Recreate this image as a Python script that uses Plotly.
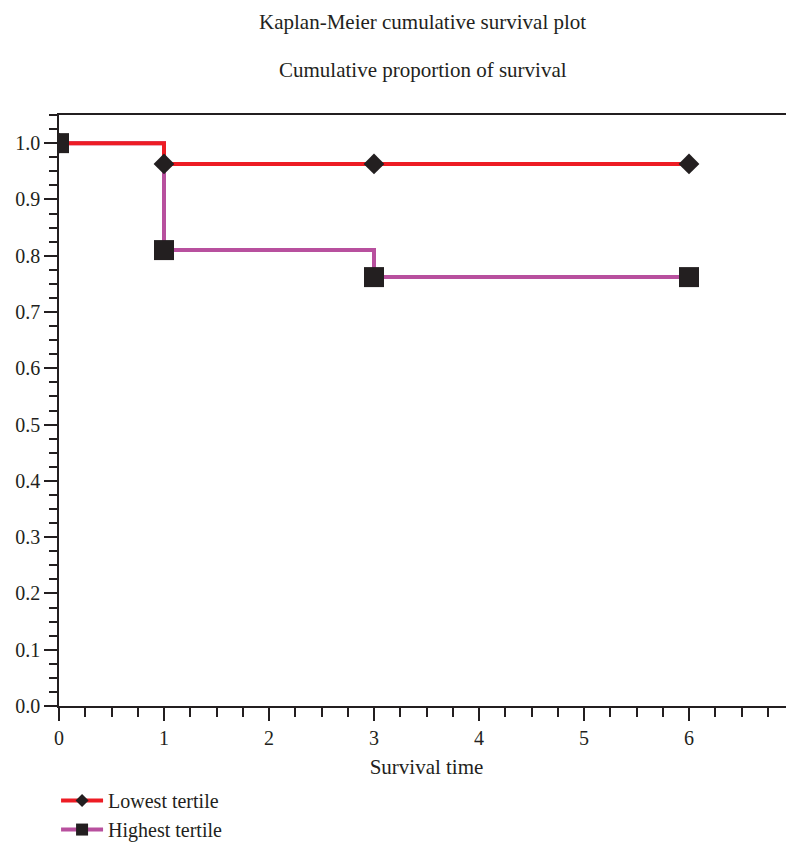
import plotly.graph_objects as go

time = [0, 1, 3, 6]
lowest = [1.0, 0.963, 0.963, 0.963]
highest = [1.0, 0.81, 0.762, 0.762]
names = ["Lowest tertile", "Highest tertile"]
colors = ["#ED1C24", "#B8509E"]
symbols = ["diamond", "square"]
mk = "#231F20"
font = "Liberation Serif"

fig = go.Figure()
# highest first so red line sits on top
for vals, name, col in [(highest, names[1], colors[1]), (lowest, names[0], colors[0])]:
    fig.add_trace(go.Scatter(x=time, y=vals, mode="lines", line=dict(color=col, width=4, shape="hv"),
                             showlegend=False, hoverinfo="skip"))
for vals, sym in [(highest, symbols[1]), (lowest, symbols[0])]:
    fig.add_trace(go.Scatter(x=time, y=vals, mode="markers",
                             marker=dict(symbol=sym, size=20 if sym == "square" else 16, color=mk,
                                         line=dict(width=0)),
                             showlegend=False))
for name, col, sym in zip(names, colors, symbols):
    fig.add_trace(go.Scatter(x=[None], y=[None], mode="lines+markers", name=name,
                             line=dict(color=col, width=4),
                             marker=dict(symbol=sym, size=12 if sym == "square" else 10, color=mk)))

# page body has 8px margin; plot area on screen: x 59..794, y 115..706
PH = 591
fig.update_layout(
    width=794, height=843,
    margin=dict(l=51, r=8, t=107, b=145, autoexpand=False),
    paper_bgcolor="white", plot_bgcolor="white",
    font=dict(family=font, size=20, color=mk),
    showlegend=True,
    legend=dict(x=-0.004, y=-0.127, xanchor="left", yanchor="top",
                font=dict(size=20), tracegroupgap=0, itemwidth=42),
)
fig.add_annotation(text="Kaplan-Meier cumulative survival plot", xref="paper", yref="paper",
                   x=0.495, y=1 + (115 - 22) / PH, showarrow=False, font=dict(size=21), yanchor="middle")
fig.add_annotation(text="Cumulative proportion of survival", xref="paper", yref="paper",
                   x=0.495, y=1 + (115 - 70) / PH, showarrow=False, font=dict(size=21), yanchor="middle")

fig.update_xaxes(range=[0, 7], dtick=1, tick0=0, showline=True, linecolor=mk, linewidth=1.5,
                 ticks="outside", ticklen=13, tickwidth=1.5, tickcolor=mk, showgrid=False, zeroline=False,
                 mirror=True, automargin=False,
                 minor=dict(dtick=0.25, tick0=0, ticks="outside", ticklen=9, tickwidth=1.5, tickcolor=mk),
                 title=dict(text="Survival time", font=dict(size=21), standoff=12),
                 tickfont=dict(size=20))
fig.update_yaxes(range=[0, 1.05], dtick=0.1, tick0=0, tickformat=".1f", showline=True, linecolor=mk,
                 linewidth=1.5, ticks="outside", ticklen=13, tickwidth=1.5, tickcolor=mk, showgrid=False,
                 zeroline=False, mirror=False, automargin=False,
                 minor=dict(dtick=0.025, tick0=0, ticks="outside", ticklen=8, tickwidth=1.5, tickcolor=mk),
                 tickfont=dict(size=20))

fig.write_html("out.html")
